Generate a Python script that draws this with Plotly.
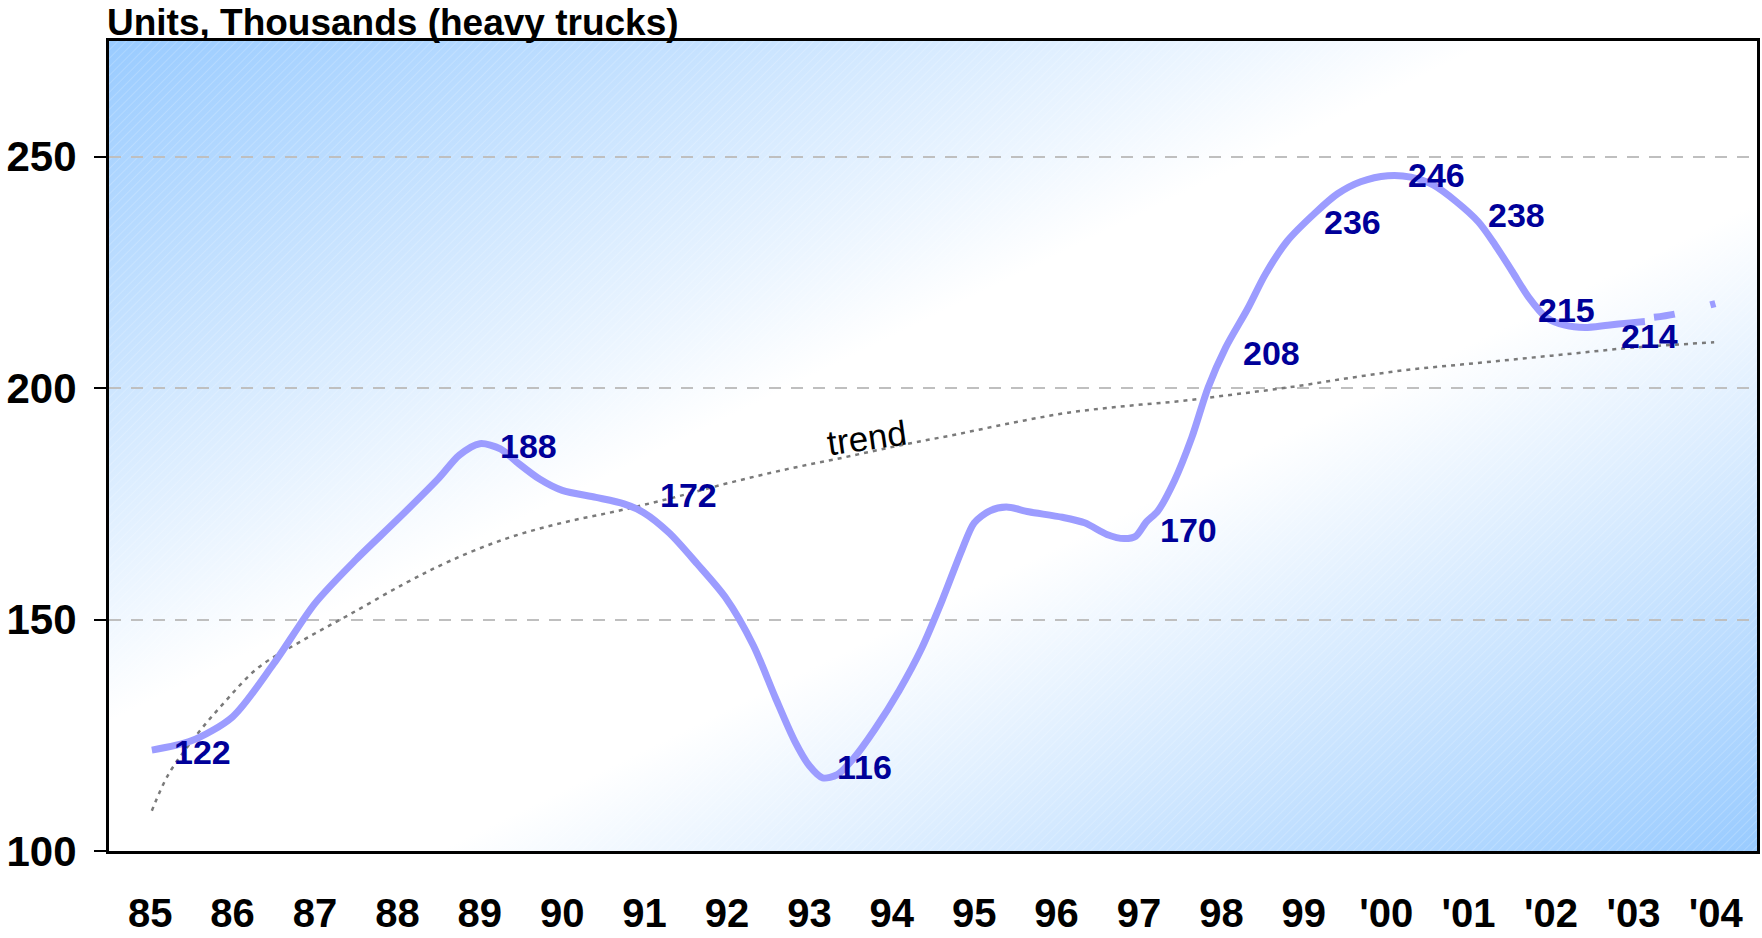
import base64
import plotly.graph_objects as go

# ---- data ----
YEARS = list(range(1985, 2005))
YEAR_LABELS = ["85", "86", "87", "88", "89", "90", "91", "92", "93", "94",
               "95", "96", "97", "98", "99", "'00", "'01", "'02", "'03", "'04"]

# heavy truck units (thousands), smoothed series, x as decimal year
SALES_X = [1985.02, 1985.50, 1986.00, 1986.50, 1987.00, 1987.50, 1988.00, 1988.50,
           1988.75, 1989.00, 1989.25, 1989.45, 1989.73, 1990.00, 1990.41, 1990.75,
           1990.99, 1991.30, 1991.64, 1991.98, 1992.32, 1992.59, 1992.82, 1993.00,
           1993.16, 1993.34, 1993.54, 1993.79, 1994.09, 1994.36, 1994.61, 1994.85,
           1995.00, 1995.19, 1995.39, 1995.66, 1996.07, 1996.34, 1996.61, 1996.82,
           1996.96, 1997.09, 1997.23, 1997.43, 1997.64, 1997.84, 1998.05, 1998.32,
           1998.53, 1998.80, 1999.14, 1999.41, 1999.69, 2000.02, 2000.30, 2000.57,
           2000.85, 2001.12, 2001.32, 2001.53, 2001.73, 2001.94, 2002.17, 2002.41,
           2002.69, 2002.96, 2003.14]
SALES_Y = [121.8, 123.8, 129.0, 140.5, 153.5, 163.0, 171.6, 180.5,
           185.5, 188.0, 186.9, 184.0, 180.3, 177.9, 176.4, 175.0,
           173.1, 168.7, 162.0, 154.8, 144.4, 133.0, 123.8, 118.4,
           115.8, 116.5, 120.1, 126.2, 134.7, 143.7, 154.1, 165.0,
           170.9, 173.5, 174.3, 173.3, 172.1, 170.9, 168.4, 167.5,
           168.0, 171.1, 173.5, 180.0, 189.3, 200.2, 208.7, 217.2,
           224.5, 231.8, 237.9, 242.0, 244.6, 245.9, 245.6, 243.9,
           240.3, 235.9, 231.0, 225.2, 219.6, 215.3, 213.6, 213.1,
           213.6, 214.1, 214.4]

# projection (dashed)
PROJ_X = [2003.25, 2003.50, 2004.00]
PROJ_Y = [215.3, 216.0, 218.3]

# trend line
TREND_X = [1985.02, 1985.22, 1985.56, 1985.91, 1986.31, 1986.86, 1987.41, 1988.09,
           1988.63, 1989.32, 1990.00, 1990.68, 1991.36, 1992.04, 1992.73, 1993.41,
           1994.09, 1994.78, 1995.46, 1996.14, 1996.82, 1997.50, 1998.18, 1998.87,
           1999.55, 2000.23, 2000.91, 2001.60, 2002.28, 2002.96, 2003.98]
TREND_Y = [108.7, 116.5, 125.0, 132.3, 139.6, 145.6, 151.0, 157.8,
           162.6, 167.5, 170.9, 173.5, 176.4, 179.6, 182.5, 185.0,
           187.6, 190.0, 192.5, 194.7, 196.1, 197.2, 198.7, 200.3,
           202.2, 203.9, 205.1, 206.3, 207.5, 208.7, 209.9]

# labelled annual values
LABEL_YEARS = [1985, 1989, 1991, 1993, 1997, 1998, 1999, 2000, 2001, 2002, 2003]
LABEL_VALUES = [122, 188, 172, 116, 170, 208, 236, 246, 238, 215, 214]

# label offsets in pixels (placement only)
LABEL_DX = [52, 49, 44, 55, 49, 50, 49, 50, 48, 15, 16]
LABEL_DY = [-3, -2, 23, 10, -3, -2, 0, 0, -3, 9, -13]

FONT = "Arial, 'Liberation Sans', sans-serif"
LINE_COLOR = "#9C9CFF"
LABEL_COLOR = "#000099"

# plot-area background: diagonal blue-white-blue gradient with faint hatching
PW, PH = 1648, 810
svg = f"""<svg xmlns="http://www.w3.org/2000/svg" width="{PW}" height="{PH}" viewBox="0 0 {PW} {PH}" preserveAspectRatio="none">
<defs>
<linearGradient id="g" x1="0" y1="0" x2="1" y2="1">
<stop offset="0" stop-color="#99CBFF"/>
<stop offset="0.42" stop-color="#FFFFFF"/>
<stop offset="0.6" stop-color="#FFFFFF"/>
<stop offset="1" stop-color="#99CBFF"/>
</linearGradient>
<pattern id="h" width="6" height="6" patternUnits="userSpaceOnUse" patternTransform="rotate(45)">
<line x1="0" y1="0" x2="0" y2="6" stroke="#FFFFFF" stroke-width="1" stroke-opacity="0.35"/>
</pattern>
</defs>
<rect width="{PW}" height="{PH}" fill="url(#g)"/>
<rect width="{PW}" height="{PH}" fill="url(#h)"/>
</svg>"""
bg_src = "data:image/svg+xml;base64," + base64.b64encode(svg.encode()).decode()

fig = go.Figure()

fig.add_trace(go.Scatter(
    x=TREND_X, y=TREND_Y, mode="lines",
    line=dict(color="#7A7A7A", width=2.5, dash="4px,5px", shape="spline"),
    showlegend=False, hoverinfo="skip",
))

fig.add_trace(go.Scatter(
    x=SALES_X, y=SALES_Y, mode="lines",
    line=dict(color=LINE_COLOR, width=7, shape="spline", smoothing=0.8),
    showlegend=False,
))

fig.add_trace(go.Scatter(
    x=PROJ_X, y=PROJ_Y, mode="lines",
    line=dict(color=LINE_COLOR, width=7, dash="21px,37px,5px,60px", shape="spline"),
    showlegend=False,
))

for yr, val, dx, dy in zip(LABEL_YEARS, LABEL_VALUES, LABEL_DX, LABEL_DY):
    fig.add_annotation(
        x=yr, y=val, text=f"<b>{val}</b>", showarrow=False,
        xshift=dx, yshift=dy,
        font=dict(family=FONT, size=34, color=LABEL_COLOR),
    )

fig.add_annotation(
    x=1993.70, y=189.3, text="trend", showarrow=False, textangle=-8,
    font=dict(family=FONT, size=35, color="black"),
)

fig.add_annotation(
    xref="paper", yref="paper", x=0, y=1, xanchor="left", yanchor="bottom",
    xshift=-4, yshift=-4,
    text="<b>Units, Thousands (heavy trucks)</b>", showarrow=False,
    font=dict(family=FONT, size=37, color="black"),
)

fig.add_layout_image(dict(
    source=bg_src, xref="paper", yref="paper", x=0, y=1,
    sizex=1, sizey=1, sizing="stretch", layer="below",
    xanchor="left", yanchor="top",
))

fig.update_layout(
    width=1762, height=938,
    margin=dict(l=109, r=5, t=41, b=87),
    paper_bgcolor="white",
    plot_bgcolor="rgba(0,0,0,0)",
    font=dict(family=FONT, color="black"),
    showlegend=False,
)

fig.update_xaxes(
    range=[1984.5, 2004.5], automargin=False,
    tickvals=YEARS, ticktext=YEAR_LABELS,
    tickfont=dict(family=FONT, size=40, color="black", weight="bold"),
    ticks="", ticklabelstandoff=25,
    showgrid=False, zeroline=False,
    showline=True, linecolor="black", linewidth=3, mirror=True,
)
fig.update_yaxes(
    range=[100, 275], automargin=False,
    tickvals=[100, 150, 200, 250],
    tickfont=dict(family=FONT, size=42, color="black", weight="bold"),
    ticks="outside", ticklen=12, tickwidth=2, tickcolor="black",
    ticklabelstandoff=9,
    showgrid=True, gridcolor="#BFBFBF", gridwidth=2, griddash="12px,10px",
    zeroline=False,
    showline=True, linecolor="black", linewidth=3, mirror=True,
)

# drop the default page margin so the figure sits at the window's top-left corner
fig.write_html("out.html", config={"displayModeBar": False},
               post_script="document.body.style.margin='0';")
